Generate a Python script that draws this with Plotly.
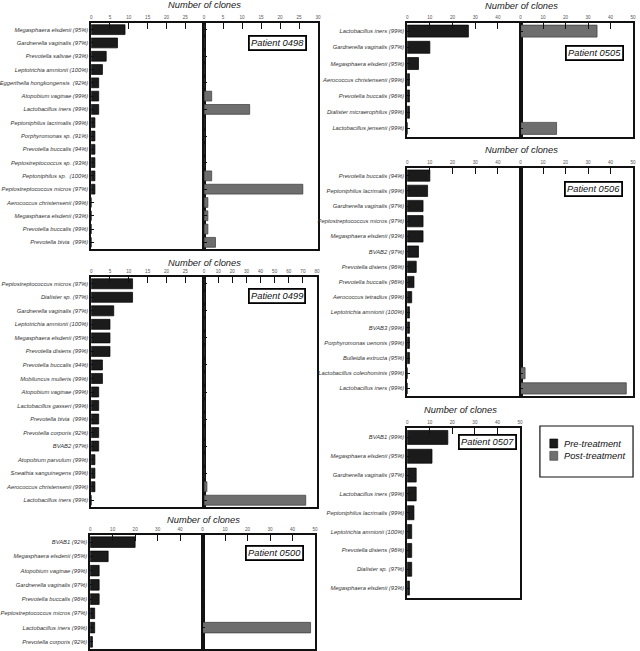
import plotly.graph_objects as go

W, H = 640, 651
FONT = "Liberation Sans, Arial, Helvetica, sans-serif"

# ---------------- data ----------------
cats_0498 = ["Megasphaera elsdenii (95%)", "Gardnerella vaginalis (97%)", "Prevotella salivae (93%)",
             "Leptotrichia amnionii (100%)", "Eggerthella hongkongensis  (92%)", "Atopobium vaginae (99%)",
             "Lactobacillus iners (99%)", "Peptoniphilus lacrimalis (99%)", "Porphyromonas sp. (91%)",
             "Prevotella buccalis (94%)", "Peptostreptococcus sp. (93%)", "Peptoniphilus sp.  (100%)",
             "Peptostreptococcus micros (97%)", "Aerococcus christensenii (99%)", "Megasphaera elsdenii (93%)",
             "Prevotella buccalis (99%)", "Prevotella bivia  (99%)"]
pre_0498 = [9, 7, 4, 3, 2, 2, 2, 1, 1, 1, 1, 1, 1, 0, 0, 0, 0]
post_0498 = [0, 0, 0, 0, 0, 2, 12, 0, 0, 0, 0, 2, 26, 1, 1, 1, 3]

cats_0499 = ["Peptostreptococcus micros (97%)", "Dialister sp. (97%)", "Gardnerella vaginalis (97%)",
             "Leptotrichia amnionii (100%)", "Megasphaera elsdenii (95%)", "Prevotella disiens (99%)",
             "Prevotella buccalis (94%)", "Mobiluncus mulieris (99%)", "Atopobium vaginae (99%)",
             "Lactobacillus gasseri (99%)", "Prevotella bivia  (99%)", "Prevotella corporis (92%)",
             "BVAB2 (97%)", "Atopobium parvulum (99%)", "Sneathia sanguinegens (99%)",
             "Aerococcus christensenii (99%)", "Lactobacillus iners (99%)"]
pre_0499 = [11, 11, 6, 5, 5, 5, 3, 3, 2, 2, 2, 2, 2, 1, 1, 1, 0]
post_0499 = [0, 0, 0, 0, 0, 0, 0, 0, 0, 0, 0, 0, 0, 0, 0, 2, 72]

cats_0500 = ["BVAB1 (92%)", "Megasphaera elsdenii (95%)", "Atopobium vaginae (99%)",
             "Gardnerella vaginalis (97%)", "Prevotella buccalis (96%)", "Peptostreptococcus micros (97%)",
             "Lactobacillus iners (99%)", "Prevotella corporis (92%)"]
pre_0500 = [20, 8, 4, 4, 4, 2, 2, 1]
post_0500 = [0, 0, 0, 0, 0, 0, 48, 0]

cats_0505 = ["Lactobacillus iners (99%)", "Gardnerella vaginalis (97%)", "Megasphaera elsdenii (95%)",
             "Aerococcus christensenii (99%)", "Prevotella buccalis (96%)", "Dialister micraerophilus (99%)",
             "Lactobacillus jensenii (99%)"]
pre_0505 = [27, 10, 5, 1, 1, 1, 0]
post_0505 = [34, 0, 0, 0, 0, 0, 16]

cats_0506 = ["Prevotella buccalis (94%)", "Peptoniphilus lacrimalis (99%)", "Gardnerella vaginalis (97%)",
             "Peptostreptococcus micros (97%)", "Megasphaera elsdenii (93%)", "BVAB2 (97%)",
             "Prevotella disiens (96%)", "Prevotella buccalis (96%)", "Aerococcus tetradius (99%)",
             "Leptotrichia amnionii (100%)", "BVAB3 (99%)", "Porphyromonas uenonis (99%)",
             "Bulleidia extructa (95%)", "Lactobacillus coleohominis (99%)", "Lactobacillus iners (99%)"]
pre_0506 = [10, 9, 7, 7, 7, 5, 4, 3, 2, 1, 1, 1, 1, 0, 0]
post_0506 = [0, 0, 0, 0, 0, 0, 0, 0, 0, 0, 0, 0, 0, 2, 47]

cats_0507 = ["BVAB1 (99%)", "Megasphaera elsdenii (95%)", "Gardnerella vaginalis (97%)",
             "Lactobacillus iners (99%)", "Peptoniphilus lacrimalis (99%)", "Leptotrichia amnionii (100%)",
             "Prevotella disiens (96%)", "Dialister sp. (97%)", "Megasphaera elsdenii (93%)"]
pre_0507 = [18, 11, 4, 4, 3, 2, 2, 2, 1]

ticks_30_left = [0, 5, 10, 15, 20, 25]
ticks_30 = [0, 5, 10, 15, 20, 25, 30]
ticks_80 = [0, 10, 20, 30, 40, 50, 60, 70, 80]
ticks_50_left = [0, 10, 20, 30, 40]
ticks_50 = [0, 10, 20, 30, 40, 50]

legend_names = ["Pre-treatment", "Post-treatment"]

# ---------------- style ----------------
PRE_COLOR, PRE_LINE = "#1b1b1b", "#000000"
POST_COLOR, POST_LINE = "#6e6e6e", "#3a3a3a"
LINE = "#111111"

fig = go.Figure()
layout = {}
count = [0]


def px(p):
    return p / W


def py(p):
    return 1 - p / H


def half(xd, yd, xrange, xticks, cats, vals, color, lcolor, left):
    count[0] += 1
    n = count[0]
    xa, ya = ("xaxis", "yaxis") if n == 1 else (f"xaxis{n}", f"yaxis{n}")
    xr, yr = ("x", "y") if n == 1 else (f"x{n}", f"y{n}")
    layout[xa] = dict(domain=[px(xd[0]), px(xd[1])], anchor=yr, side="top", range=xrange,
                      tickmode="array", tickvals=xticks, ticks="inside", ticklen=6, tickwidth=1,
                      tickcolor=LINE, showline=True, linecolor=LINE, linewidth=1.5, mirror=True,
                      showgrid=False, zeroline=False,
                      tickfont=dict(size=4.6, color="#555", family=FONT))
    layout[ya] = dict(domain=[py(yd[1]), py(yd[0])], anchor=xr, type="category",
                      categoryorder="array", categoryarray=cats, range=[len(cats) - 0.5, -0.5],
                      ticks="inside", ticklen=3, tickwidth=1, tickcolor=LINE,
                      showticklabels=left, showline=True, linecolor=LINE, linewidth=1.5,
                      mirror=True, showgrid=False, zeroline=False,
                      tickfont=dict(size=5.8, color="#333", family=FONT, style="italic"))
    fig.add_trace(go.Bar(x=vals, y=cats, orientation="h", xaxis=xr, yaxis=yr, width=0.74,
                         marker=dict(color=color, line=dict(color=lcolor, width=0.7)),
                         showlegend=False, hoverinfo="skip"))


annotations = []
shapes = []


def title(x, y):
    annotations.append(dict(text="Number of clones", x=px(x), y=py(y), xref="paper", yref="paper",
                            showarrow=False, xanchor="center", yanchor="middle",
                            font=dict(size=9.3, color="#222", family=FONT, style="italic")))


def patient(label, x, y):
    annotations.append(dict(text="Patient " + label, x=px(x), y=py(y), xref="paper", yref="paper",
                            showarrow=False, xanchor="center", yanchor="middle",
                            bordercolor="#000", borderwidth=1.8, borderpad=1.3, bgcolor="white",
                            font=dict(size=9.3, color="#111", family=FONT, style="italic")))


def panel(label, cats, pre, post, xs, ys, lr, lt, rr, rt, lab_xy, tit_xy):
    half((xs[0], xs[1]), ys, lr, lt, cats, pre, PRE_COLOR, PRE_LINE, True)
    if post is not None:
        half((xs[1], xs[2]), ys, rr, rt, cats, post, POST_COLOR, POST_LINE, False)
    title(*tit_xy)
    patient(label, *lab_xy)


panel("0498", cats_0498, pre_0498, post_0498, (89, 203, 318), (23, 249),
      [0, 30], ticks_30_left, [0, 30], ticks_30, (277, 43), (203.5, 4.5))
panel("0499", cats_0499, pre_0499, post_0499, (89, 203, 317), (277, 507),
      [0, 30], ticks_30_left, [0, 80], ticks_80, (276.5, 295.5), (203.5, 263))
panel("0500", cats_0500, pre_0500, post_0500, (88, 201.5, 315), (535, 649),
      [0, 50], ticks_50_left, [0, 50], ticks_50, (274.5, 552.5), (202, 520))
panel("0505", cats_0505, pre_0505, post_0505, (408, 522.5, 636), (23, 136.5),
      [0, 50], ticks_50_left, [0, 50], ticks_50, (597.5, 53), (523, 6))
panel("0506", cats_0506, pre_0506, post_0506, (408, 522.5, 636), (168, 396),
      [0, 50], ticks_50_left, [0, 50], ticks_50, (596.5, 189), (523, 150))
panel("0507", cats_0507, pre_0507, None, (408, 522, None), (428, 597.5),
      [0, 50], ticks_50, None, None, (489.5, 442), (462, 410))

# legend (box, swatches and text)
shapes.append(dict(type="rect", xref="paper", yref="paper", x0=px(542), x1=px(636), y0=py(477), y1=py(426),
                   line=dict(color="#111", width=1.2), fillcolor="white", layer="below"))
for i, (nm, col, lc) in enumerate(zip(legend_names, [PRE_COLOR, POST_COLOR], [PRE_LINE, POST_LINE])):
    yc = 443.5 + i * 12.3
    shapes.append(dict(type="rect", xref="paper", yref="paper", x0=px(552), x1=px(560),
                       y0=py(yc + 4.5), y1=py(yc - 4.5), fillcolor=col, line=dict(color=lc, width=0.6)))
    annotations.append(dict(text=nm, x=px(564), y=py(yc), xref="paper", yref="paper", showarrow=False,
                            xanchor="left", yanchor="middle",
                            font=dict(size=9.3, color="#111", family=FONT, style="italic")))

fig.update_layout(**layout)
fig.update_layout(width=W, height=H, margin=dict(l=0, r=0, t=0, b=0), paper_bgcolor="white",
                  plot_bgcolor="white", showlegend=False, bargap=0.28,
                  annotations=annotations, shapes=shapes, font=dict(family=FONT))
fig.write_html("out.html", config={"displayModeBar": False},
               post_script="document.body.style.margin='0px';document.body.style.padding='0px';")
